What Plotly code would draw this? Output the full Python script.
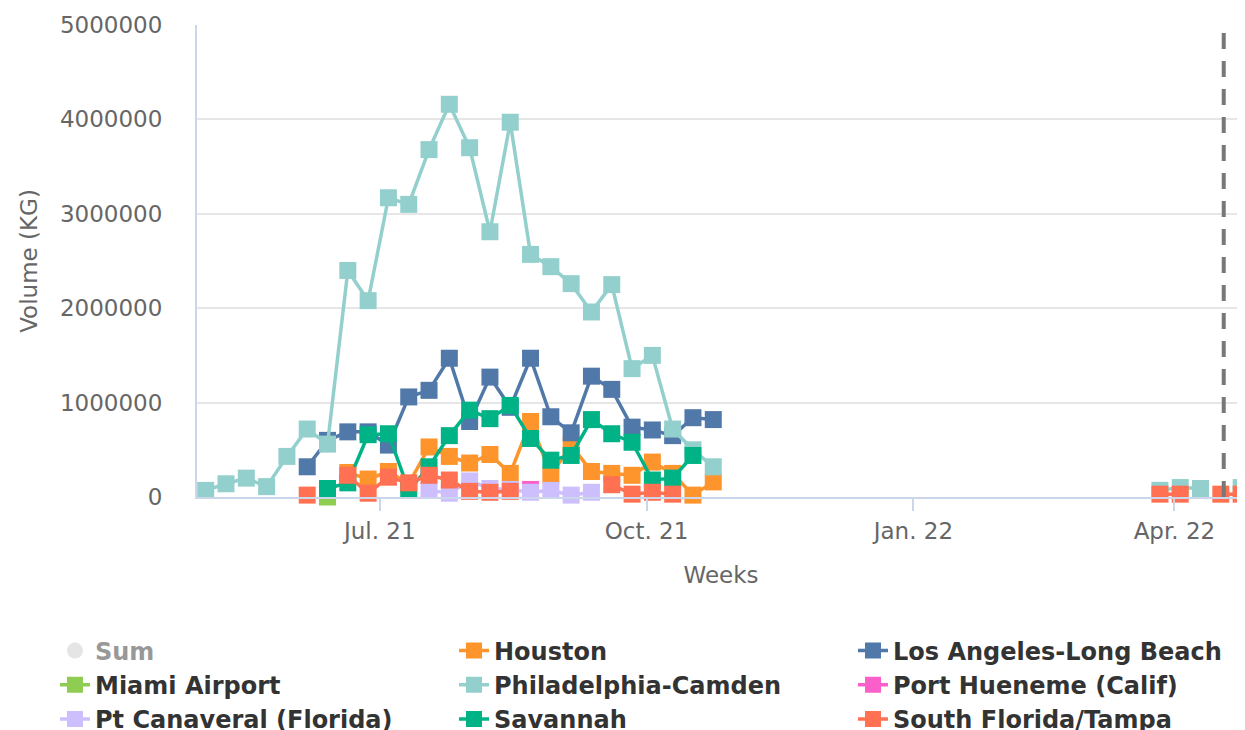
import plotly.graph_objects as go

# ---------------- data ----------------
weeks_2021 = ["2021-05-02", "2021-05-09", "2021-05-16", "2021-05-23", "2021-05-30",
              "2021-06-06", "2021-06-13", "2021-06-20", "2021-06-27", "2021-07-04",
              "2021-07-11", "2021-07-18", "2021-07-25", "2021-08-01", "2021-08-08",
              "2021-08-15", "2021-08-22", "2021-08-29", "2021-09-05", "2021-09-12",
              "2021-09-19", "2021-09-26", "2021-10-03", "2021-10-10", "2021-10-17",
              "2021-10-24"]
gap_week = ["2021-12-26"]
weeks_2022 = ["2022-03-27", "2022-04-03", "2022-04-10", "2022-04-17", "2022-04-24"]

N = None
houston_2021 = [N, N, N, N, N, N, N, 260000, 190000, 270000, 140000, 530000, 430000,
                360000, 450000, 250000, 800000, 230000, 550000, 270000, 250000, 230000,
                370000, 250000, 20000, 160000]
houston_2022 = [N, N, N, N, N]

la_2021 = [N, N, N, N, N, 320000, 600000, 690000, 690000, 550000, 1060000, 1130000,
           1470000, 800000, 1270000, 950000, 1470000, 850000, 680000, 1280000, 1140000,
           740000, 710000, 650000, 840000, 820000]
la_2022 = [N, N, N, N, N]

miami_2021 = [N, N, N, N, N, N, 0, N, N, N, N, N, N, N, N, N, N, N, N, N, N, N, N, N, N, N]
miami_2022 = [N, N, N, N, N]

phila_2021 = [70000, 140000, 200000, 110000, 430000, 720000, 560000, 2400000, 2080000,
              3170000, 3100000, 3680000, 4160000, 3700000, 2810000, 3970000, 2570000,
              2440000, 2260000, 1960000, 2250000, 1360000, 1500000, 720000, 500000, 320000]
phila_2022 = [70000, 100000, 90000, N, 100000]

hueneme_2021 = [N, N, N, N, N, N, N, N, N, N, N, N, N, N, N, N, 80000, N, N, N, N, N,
                N, N, N, N]
hueneme_2022 = [N, N, N, N, N]

canaveral_2021 = [N, N, N, N, N, N, N, N, N, N, N, 70000, 40000, 170000, 90000, 80000,
                  50000, 70000, 20000, 50000, N, N, N, N, N, N]
canaveral_2022 = [N, N, N, N, N]

savannah_2021 = [N, N, N, N, N, N, 90000, 150000, 660000, 670000, 70000, 320000, 650000,
                 920000, 830000, 970000, 620000, 390000, 440000, 820000, 670000, 580000,
                 180000, 200000, 440000, N]
savannah_2022 = [N, N, N, N, N]

sfla_2021 = [N, N, N, N, N, 20000, N, 230000, 40000, 210000, 150000, 230000, 180000,
             60000, 50000, 60000, N, N, N, N, 130000, 30000, 50000, 30000, N, N]
sfla_2022 = [30000, 30000, N, 30000, 30000]

names = ["Houston", "Los Angeles-Long Beach", "Miami Airport", "Philadelphia-Camden",
         "Port Hueneme (Calif)", "Pt Canaveral (Florida)", "Savannah", "South Florida/Tampa"]
colors = ["#fd952c", "#5079a9", "#8fcc52", "#93d0cd", "#fb5fc9", "#cdbffd", "#00b386", "#ff7152"]
series_2021 = [houston_2021, la_2021, miami_2021, phila_2021, hueneme_2021,
               canaveral_2021, savannah_2021, sfla_2021]
series_2022 = [houston_2022, la_2022, miami_2022, phila_2022, hueneme_2022,
               canaveral_2022, savannah_2022, sfla_2022]

tick_vals = ["2021-07-01", "2021-10-01", "2022-01-01", "2022-04-01"]
tick_text = ["Jul. 21", "Oct. 21", "Jan. 22", "Apr. 22"]
y_ticks = [0, 1000000, 2000000, 3000000, 4000000, 5000000]
today_line = "2022-04-18"
x_range = ["2021-04-29", "2022-04-25 08:00"]

# ---------------- figure ----------------
x_all = weeks_2021 + gap_week + weeks_2022
fig = go.Figure()

# Sum (hidden series)
sum_vals = []
for i in range(len(x_all)):
    tot = 0
    for s21, s22 in zip(series_2021, series_2022):
        arr = s21 + [None] + s22
        if arr[i] is not None:
            tot += arr[i]
    sum_vals.append(tot if tot else None)
fig.add_trace(go.Scatter(x=x_all, y=sum_vals, name="Sum", mode="markers",
                         visible="legendonly",
                         marker=dict(symbol="circle", size=16, color="#cccccc")))

for name, col, s21, s22 in zip(names, colors, series_2021, series_2022):
    fig.add_trace(go.Scatter(
        x=x_all, y=s21 + [None] + s22, name=name, mode="lines+markers",
        connectgaps=False, cliponaxis=False,
        line=dict(color=col, width=3.5),
        marker=dict(symbol="square", size=17, color=col, line=dict(width=0)),
    ))

fig.add_shape(type="line", xref="x", yref="paper", x0=today_line, x1=today_line,
              y0=0, y1=1, line=dict(color="#777777", width=4, dash="16px,12px"))

axis_font = dict(family="DejaVu Sans", size=23, color="#666666")
# the page body adds an 8px offset, so the figure is sized 8px smaller
fig.update_layout(
    width=1237, height=722,
    margin=dict(l=189, r=0, t=17, b=233, autoexpand=False),
    plot_bgcolor="white", paper_bgcolor="white",
    font=dict(family="DejaVu Sans", color="#333333"),
    showlegend=True,
    legend=dict(orientation="h",
                x=-0.1355, xanchor="left", y=-0.2786, yanchor="top",
                entrywidth=354, entrywidthmode="pixels",
                font=dict(family="DejaVu Sans", size=24, color="#333333", weight="bold"),
                itemclick=False, itemdoubleclick=False, tracegroupgap=0),
    xaxis=dict(type="date", range=x_range, tickvals=tick_vals, ticktext=tick_text,
               showgrid=False, showline=True, linecolor="#ccd6eb", linewidth=2,
               ticks="outside", ticklen=12, tickcolor="#ccd6eb", tickwidth=2,
               tickfont=axis_font, zeroline=False, automargin=False,
               title=dict(text="Weeks", font=axis_font, standoff=24)),
    yaxis=dict(range=[0, 5000000], tickvals=y_ticks, tickformat="d",
               showgrid=True, gridcolor="#e6e6e6", gridwidth=2, automargin=False,
               showline=True, linecolor="#ccd6eb", linewidth=2, zeroline=False,
               ticks="", tickfont=axis_font, ticklabelstandoff=28,
               title=dict(text="Volume (KG)", font=axis_font, standoff=16)),
)

fig.write_html("out.html")
